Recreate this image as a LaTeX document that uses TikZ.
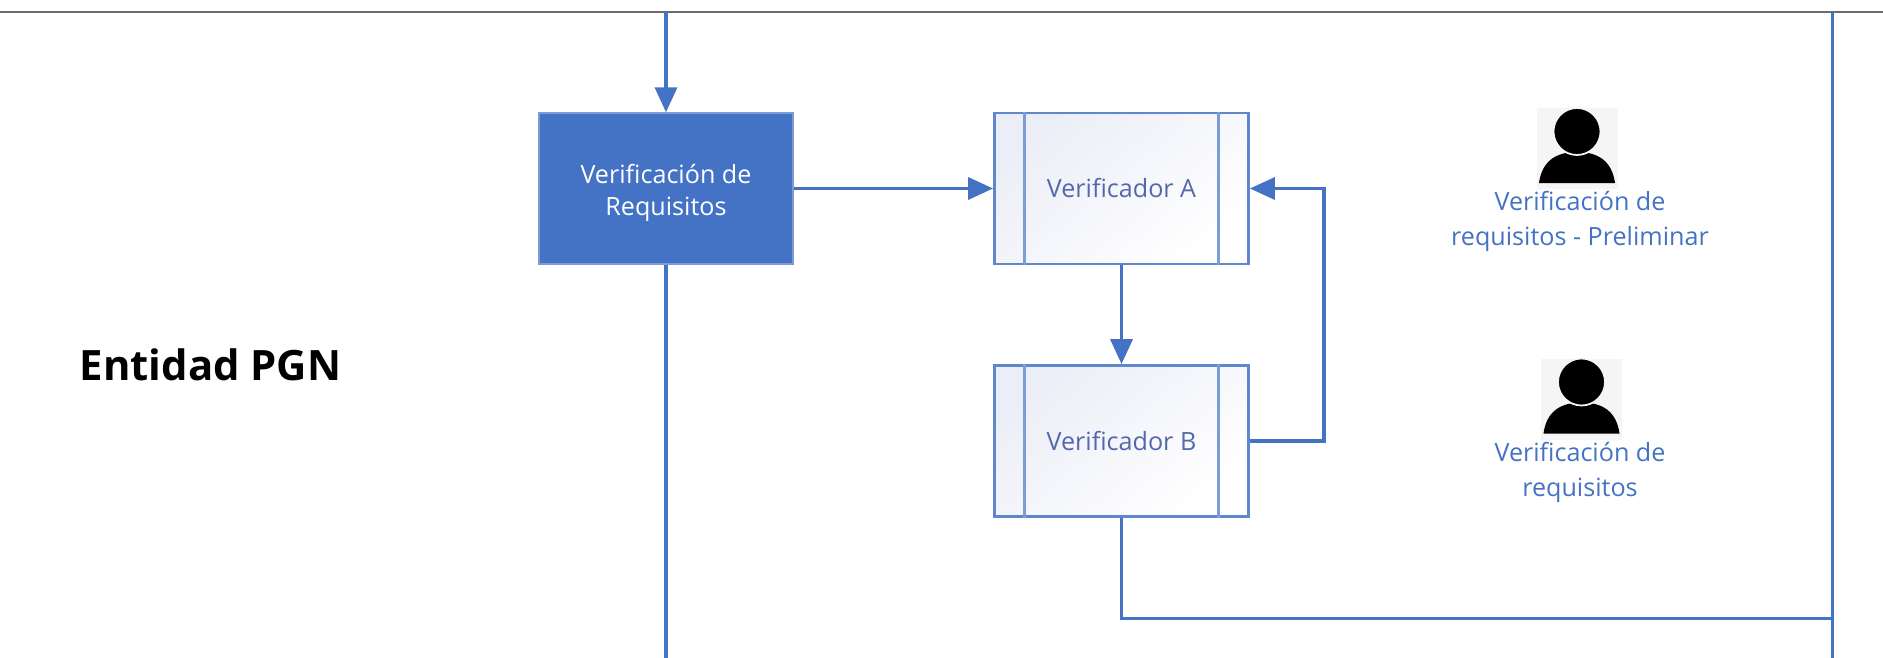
\documentclass[tikz,border=0pt]{standalone}
\usepackage{xcolor}
\usepackage{fontspec}
\setmainfont{Open Sans}
\usepackage{tikz}
\usetikzlibrary{shapes,arrows.meta,positioning}
\definecolor{flowblue}{HTML}{4472C4}
\definecolor{subtext}{HTML}{5468AE}
\definecolor{subtint}{HTML}{ECEEF7}
\definecolor{icongray}{HTML}{F5F5F5}

\begin{document}
\begin{tikzpicture}[node distance=5.05cm, auto]
% Define styles
\tikzstyle{activity} = [rectangle, minimum width=5.08cm, minimum height=3.02cm, text centered, align=center, draw=flowblue!70, line width=0.8pt, fill=flowblue, text=white, font=\fontsize{14.3}{18.6}\selectfont]
\tikzstyle{subprocess} = [rectangle, minimum width=5.08cm, minimum height=3.02cm, text centered, draw=flowblue!85, line width=1.6pt, shading=axis, bottom color=white, top color=subtint, shading angle=40, text=subtext, font=\fontsize{14.3}{18}\selectfont]
\tikzstyle{usericon} = [rectangle, minimum width=1.62cm, minimum height=1.62cm, inner sep=0pt, fill=icongray]
\tikzstyle{rolelabel} = [align=center, inner sep=0pt, text=flowblue, font=\fontsize{14.3}{20}\selectfont]
\tikzstyle{arrow} = [line width=2pt, draw=flowblue, -{Triangle[length=0.5cm, width=0.44cm]}]
\tikzstyle{line} = [line width=2pt, draw=flowblue]

\useasboundingbox (0,0) rectangle (37.66,-13.16);

% Define nodes
\coordinate (ruleleft) at (0,-0.24);
\coordinate (ruleright) at (37.66,-0.24);
\node (entity) at (4.21,-7.3) [font=\fontsize{23.8}{28}\selectfont\bfseries, inner sep=0pt] {Entidad PGN};
\node (check) at (13.32,-3.77) [activity] {\rule{0pt}{16pt}Verificación de\\Requisitos};
\node (verifa) [subprocess, right of=check, xshift=4.06cm] {Verificador A};
\node (verifb) [subprocess, below of=verifa] {Verificador B};
\node (iconone) at (31.54,-2.97) [usericon] {};
\node (icontwo) at (31.63,-7.98) [usericon] {};
\node (roleone) at (31.6,-4.42) [rolelabel] {Verificación de\\requisitos - Preliminar};
\node (roletwo) at (31.6,-9.45) [rolelabel] {Verificación de\\requisitos};
\coordinate (checkin) at (check |- ruleleft);
\coordinate (checkout) at (13.32,-13.16);
\coordinate (railtop) at (36.65,-0.24);
\coordinate (railbot) at (36.65,-13.16);
\coordinate (railjoin) at (36.65,-12.37);

% Draw the divider
\draw [gray!85!black, line width=0.8pt] (ruleleft) -- (ruleright);

% Bars of the subprocess boxes
\foreach \vb in {verifa, verifb} {
  \draw [draw=flowblue!70, line width=1.8pt] ([xshift=0.63cm]\vb.north west) -- ([xshift=0.63cm]\vb.south west);
  \draw [draw=flowblue!70, line width=1.8pt] ([xshift=-0.63cm]\vb.north east) -- ([xshift=-0.63cm]\vb.south east);
}

% Person icons
\foreach \ic in {iconone, icontwo} {
  \fill [black, shift={(\ic.center)}] (-0.76,-0.69) .. controls (-0.7,-0.25) and (-0.42,-0.07) .. (0,-0.07) .. controls (0.42,-0.07) and (0.7,-0.25) .. (0.76,-0.69) -- cycle;
  \fill [black, draw=icongray, line width=1pt, shift={(\ic.center)}] (0,0.34) circle (0.47);
}

% Draw arrows
\draw [arrow] (checkin) -- (check);
\draw [line] (check) -- (checkout);
\draw [arrow] (check) -- (verifa);
\draw [arrow] (verifa) -- (verifb);
\draw [arrow] (verifb.east) -- +(1.48,0) |- (verifa.east);
\draw [line] (verifb.south) |- (railjoin);
\draw [line] (railtop) -- (railbot);
\end{tikzpicture}
\end{document}
